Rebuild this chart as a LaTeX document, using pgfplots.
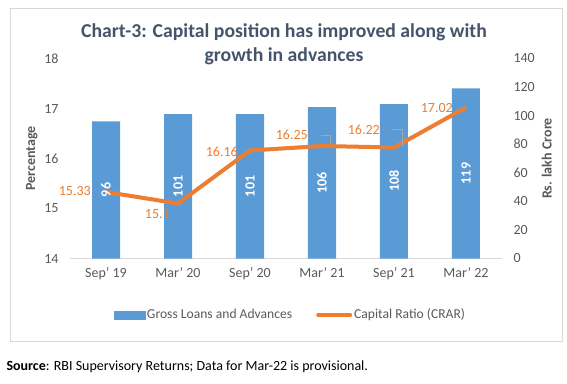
\documentclass[border=0pt]{standalone}
\usepackage{pgfplots}
\usepackage{pgfplotstable}
\pgfplotsset{compat=1.18}
\usepackage{fontspec}
\setmainfont{Carlito}
\definecolor{barblue}{HTML}{5B9BD5}
\definecolor{lineorange}{HTML}{ED7D31}
\definecolor{titlec}{HTML}{44546A}
\definecolor{tickc}{HTML}{595959}
\definecolor{framec}{HTML}{D9D9D9}
\pgfplotsset{/pgf/number format/assume math mode=true}

\pgfplotstableread{
x v
0 96
1 101
2 101
3 106
4 108
5 119
}\bars

\pgfplotstableread{
x v
0 15.33
1 15.1
2 16.16
3 16.25
4 16.22
5 17.02
}\crar

\pgfplotsset{crarlab/.style 2 args={draw=none, forget plot, nodes near coords, point meta=explicit symbolic,
  nodes near coords style={anchor=east, xshift=#1pt, yshift=#2pt, text=lineorange, font=\fontsize{14}{16}\selectfont, inner sep=0pt}}}

\begin{document}
\begin{tikzpicture}
\path (0pt,0pt) rectangle (567pt,383pt);
\draw[framec] (10pt,42pt) rectangle (562pt,375pt);
\node[font=\fontsize{19.7}{24.5}\selectfont\bfseries, text=titlec, align=center] at (284pt,339pt)
  {Chart-3: Capital position has improved along with\\growth in advances};
\node[anchor=west, font=\fontsize{14}{16}\selectfont, text=black] at (3pt,16pt)
  {\textbf{Source}: RBI Supervisory Returns; Data for Mar-22 is provisional.};

% bars, right axis
\begin{axis}[
  at={(70pt,124.5pt)}, anchor=south west, scale only axis,
  width=432pt, height=200pt,
  xmin=-0.5, xmax=5.5, ymin=0, ymax=140,
  ytick={0,20,...,140},
  axis y line*=right, axis x line*=bottom,
  y axis line style={draw=none},
  x axis line style={draw=framec, -},
  major tick length=0pt,
  xtick={0,...,5},
  xticklabels={Sep' 19, Mar' 20, Sep' 20, Mar' 21, Sep' 21, Mar' 22},
  tick label style={text=tickc, font=\fontsize{14}{16}\selectfont},
  yticklabel style={xshift=8pt},
  xticklabel style={yshift=-6pt},
  ylabel={Rs. lakh Crore},
  ylabel style={font=\fontsize{14}{16}\selectfont\bfseries, text=tickc},
  clip=false,
]
\addplot[ybar, bar width=28pt, fill=barblue, draw=none] table[x=x, y=v] {\bars};
\end{axis}

% line, left axis
\begin{axis}[
  at={(70pt,124.5pt)}, anchor=south west, scale only axis,
  width=432pt, height=200pt,
  xmin=-0.5, xmax=5.5, ymin=14, ymax=18,
  ytick={14,...,18},
  axis y line*=left, axis x line=none,
  y axis line style={draw=none},
  major tick length=0pt,
  tick label style={text=tickc, font=\fontsize{14}{16}\selectfont},
  yticklabel style={xshift=-8pt},
  ylabel={Percentage},
  ylabel style={font=\fontsize{14}{16}\selectfont\bfseries, text=tickc},
  clip=false,
  legend style={at={(0.51,-0.281)}, anchor=center, draw=none, fill=none,
    font=\fontsize{13.6}{15}\selectfont, text=tickc,
    /tikz/every even column/.append style={column sep=22pt}},
  legend columns=2,
]
\addlegendimage{legend image code/.code={\fill[barblue] (0pt,-4pt) rectangle (31pt,4pt);}}
\addlegendentry{Gross Loans and Advances}
\addplot[lineorange, line width=4pt, line join=round,
  legend image code/.code={\draw[lineorange, line width=4pt, line cap=round] (0pt,0pt) -- (32pt,0pt);}]
  table[x=x, y=v] {\crar};
\addlegendentry{Capital Ratio (CRAR)}
\addplot[crarlab={-15}{1}] coordinates {(0,15.33) [15.33]};
\addplot[crarlab={-8}{-11}] coordinates {(1,15.1) [15.1]};
\addplot[crarlab={-12}{-1}] coordinates {(2,16.16) [16.16]};
\addplot[crarlab={-14}{11}] coordinates {(3,16.25) [16.25]};
\addplot[crarlab={-14}{18}] coordinates {(4,16.22) [16.22]};
\addplot[crarlab={-13}{-1}] coordinates {(5,17.02) [17.02]};
\draw[gray!70, thin] (axis cs:2.98,16.47) -- (axis cs:3.12,16.47) -- (axis cs:3.12,16.27);
\draw[gray!70, thin] (axis cs:3.97,16.59) -- (axis cs:4.12,16.59) -- (axis cs:4.12,16.24);
\end{axis}

% bar value labels on top of everything
\begin{axis}[
  at={(70pt,124.5pt)}, anchor=south west, scale only axis,
  width=432pt, height=200pt,
  xmin=-0.5, xmax=5.5, ymin=0, ymax=140,
  hide axis, clip=false,
]
\addplot[draw=none, nodes near coords, point meta=explicit symbolic,
  nodes near coords style={rotate=90, anchor=center, text=white, font=\fontsize{14}{16}\selectfont\bfseries}]
  table[x=x, y expr=\thisrow{v}/2, meta=v] {\bars};
\end{axis}
\end{tikzpicture}
\end{document}
